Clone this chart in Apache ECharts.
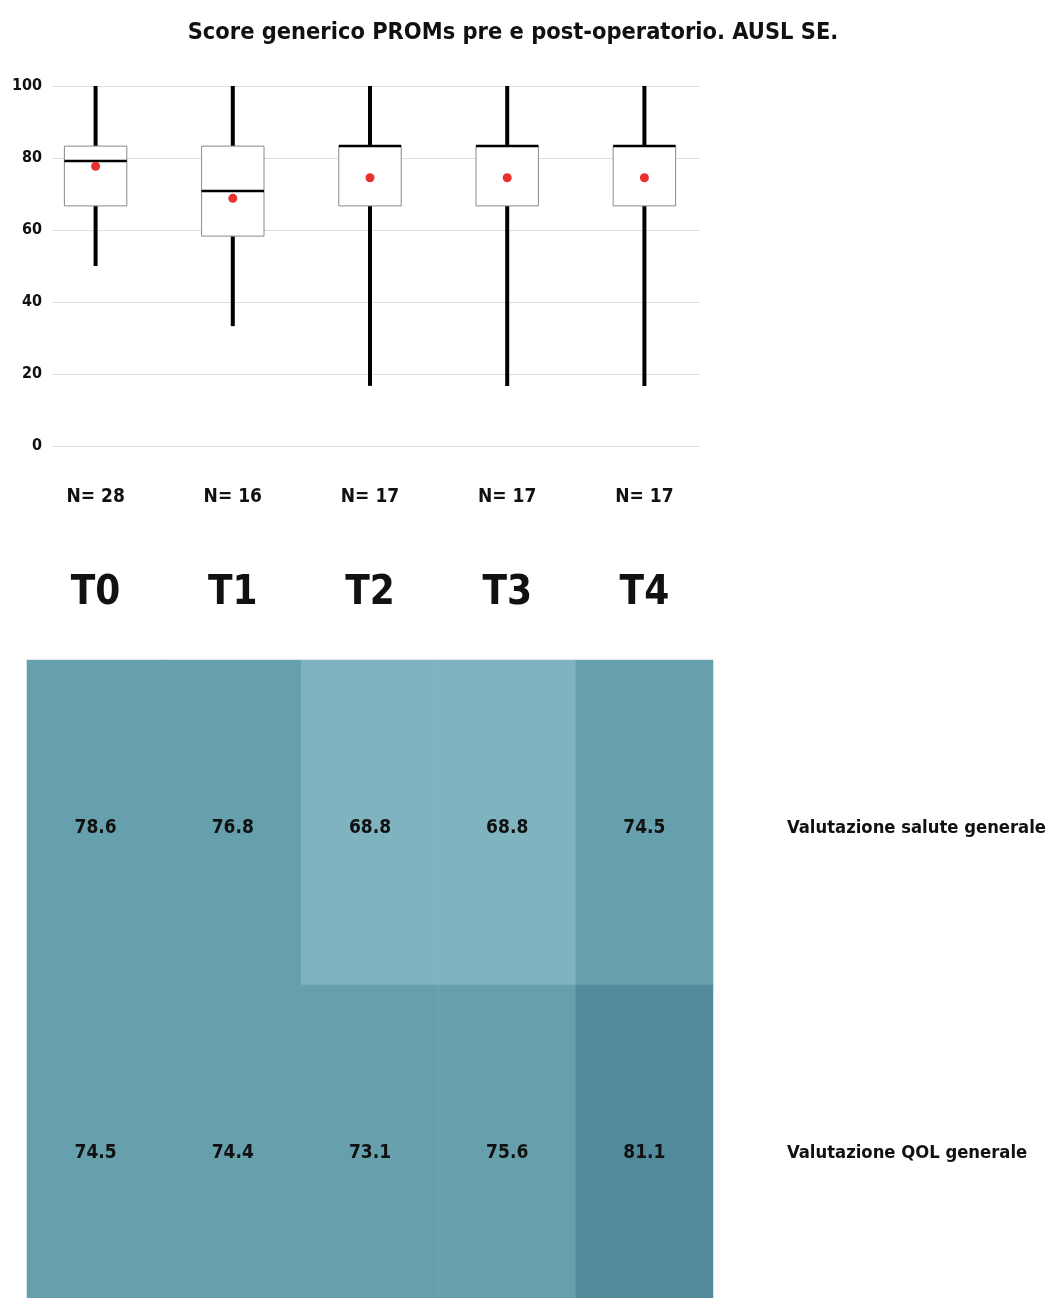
<!DOCTYPE html>
<html>
<head>
<meta charset="utf-8">
<script src="https://cdn.jsdelivr.net/npm/echarts@6/dist/echarts.min.js"></script>
<style>
  html, body { margin: 0; padding: 0; background: #fff; }
  #chart { width: 1049px; height: 1298px; }
</style>
</head>
<body>
<div id="chart"></div>
<script>
const FONT = '"DejaVu Sans Condensed", "Liberation Sans Narrow", "Roboto", sans-serif';

const times = ['T0', 'T1', 'T2', 'T3', 'T4'];
const nLabels = ['N= 28', 'N= 16', 'N= 17', 'N= 17', 'N= 17'];
// [low, q1, median, q3, high]
const boxStats = [
    [50, 66.7, 79.2, 83.3, 100],
    [33.3, 58.3, 70.8, 83.3, 100],
    [16.7, 66.7, 83.3, 83.3, 100],
    [16.7, 66.7, 83.3, 83.3, 100],
    [16.7, 66.7, 83.3, 83.3, 100]
];
const means = [77.7, 68.8, 74.5, 74.5, 74.5];

const rows = ['Valutazione salute generale', 'Valutazione QOL generale'];
const saluteValues = [78.6, 76.8, 68.8, 68.8, 74.5];
const qolValues = [74.5, 74.4, 73.1, 75.6, 81.1];

const myChart = echarts.init(document.getElementById('chart'));

const heatData = [];
saluteValues.forEach((v, i) => heatData.push([i, 0, v]));
qolValues.forEach((v, i) => heatData.push([i, 1, v]));

const option = {
    animation: false,
    textStyle: { fontFamily: FONT },
    title: {
        text: 'Score generico PROMs pre e post-operatorio. AUSL SE.',
        left: 508,
        top: 16,
        textAlign: 'center',
        textStyle: { fontFamily: FONT, fontSize: 23.4, fontWeight: 'bold', color: '#111' }
    },
    grid: [
        // gridlines + y labels
        { left: 52, right: 349, top: 86, height: 360, outerBoundsMode: 'none' },
        // boxes
        { left: 27, width: 686, top: 86, height: 360, outerBoundsMode: 'none' },
        // heatmap
        { left: 27, width: 686, top: 660, height: 650, outerBoundsMode: 'none' }
    ],
    xAxis: [
        { gridIndex: 0, type: 'category', data: times, show: false },
        {
            gridIndex: 1, type: 'category', data: times,
            axisLine: { show: false }, axisTick: { show: false },
            axisLabel: { margin: 128, fontSize: 40, fontWeight: 'bold', color: '#111', fontFamily: FONT }
        },
        {
            gridIndex: 1, type: 'category', data: nLabels, position: 'bottom',
            axisLine: { show: false }, axisTick: { show: false },
            axisLabel: { margin: 42, fontSize: 19, fontWeight: 'bold', color: '#111', fontFamily: FONT }
        },
        { gridIndex: 2, type: 'category', data: times, show: false }
    ],
    yAxis: [
        {
            gridIndex: 0, type: 'value', min: 0, max: 100, interval: 20,
            axisLine: { show: false }, axisTick: { show: false },
            axisLabel: { margin: 10, fontSize: 16, fontWeight: 'bold', color: '#111', fontFamily: FONT },
            splitLine: { lineStyle: { color: '#dcdcea', width: 1 } }
        },
        {
            gridIndex: 1, type: 'value', min: 0, max: 100, show: false
        },
        {
            gridIndex: 2, type: 'category', data: rows, inverse: true, position: 'right',
            axisLine: { show: false }, axisTick: { show: false }, splitLine: { show: false },
            axisLabel: {
                margin: 74, align: 'left', verticalAlign: 'top', lineHeight: 12,
                fontSize: 18.3, fontWeight: 'bold', color: '#111', fontFamily: FONT
            }
        }
    ],
    visualMap: {
        type: 'piecewise',
        show: false,
        seriesIndex: 2,
        pieces: [
            { lt: 70, color: '#7fb3bf' },
            { gte: 70, lt: 80, color: '#67a0ad' },
            { gte: 80, color: '#518a9b' }
        ]
    },
    series: [
        {
            type: 'custom',
            xAxisIndex: 1,
            yAxisIndex: 1,
            data: boxStats.map((s, i) => [i].concat(s)),
            encode: { x: 0, y: [1, 2, 3, 4, 5] },
            renderItem: function (params, api) {
                const x = api.value(0);
                const low = api.coord([x, api.value(1)]);
                const q1 = api.coord([x, api.value(2)]);
                const med = api.coord([x, api.value(3)]);
                const q3 = api.coord([x, api.value(4)]);
                const high = api.coord([x, api.value(5)]);
                const half = api.size([1, 0])[0] * 0.455 / 2;
                const cx = low[0];
                return {
                    type: 'group',
                    children: [
                        { type: 'line', shape: { x1: cx, y1: high[1], x2: cx, y2: q3[1] }, style: { stroke: '#000', lineWidth: 4 } },
                        { type: 'line', shape: { x1: cx, y1: q1[1], x2: cx, y2: low[1] }, style: { stroke: '#000', lineWidth: 4 } },
                        { type: 'rect', shape: { x: cx - half, y: q3[1], width: half * 2, height: q1[1] - q3[1] }, style: { fill: '#fff', stroke: '#8a8a8a', lineWidth: 1 } },
                        { type: 'line', shape: { x1: cx - half, y1: med[1], x2: cx + half, y2: med[1] }, style: { stroke: '#000', lineWidth: 2.5 } }
                    ]
                };
            }
        },
        {
            type: 'scatter',
            xAxisIndex: 1,
            yAxisIndex: 1,
            symbolSize: 9,
            itemStyle: { color: '#e8302f', opacity: 1 },
            data: means.map((m, i) => [i, m]),
            z: 5
        },
        {
            type: 'heatmap',
            xAxisIndex: 3,
            yAxisIndex: 2,
            data: heatData,
            label: {
                show: true,
                offset: [0, 6],
                fontSize: 19,
                fontWeight: 'bold',
                color: '#111',
                fontFamily: FONT,
                formatter: p => p.value[2].toFixed(1)
            },
            itemStyle: { borderWidth: 0 }
        }
    ]
};

option && myChart.setOption(option);
</script>
</body>
</html>
